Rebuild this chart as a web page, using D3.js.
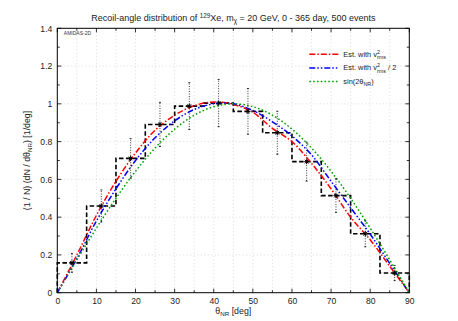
<!DOCTYPE html>
<html>
<head>
<meta charset="utf-8">
<script src="https://cdnjs.cloudflare.com/ajax/libs/d3/7.8.5/d3.min.js"></script>
<style>
  body { margin: 0; background: #fff; }
  svg text { font-family: "Liberation Sans", Arial, sans-serif; fill: #222; }
</style>
</head>
<body>
<div id="chart"></div>
<script>
// histogram: 12 bins of 7.5 deg
const binEdges = [0, 7.5, 15, 22.5, 30, 37.5, 45, 52.5, 60, 67.5, 75, 82.5, 90];
const binValues = [0.158, 0.459, 0.711, 0.891, 0.988, 1.004, 0.960, 0.847, 0.694, 0.514, 0.312, 0.104];
const binErrors = [0.050, 0.085, 0.105, 0.117, 0.124, 0.125, 0.121, 0.114, 0.103, 0.089, 0.069, 0.040];

// curves read at every 5 deg
const curveAngles = [0, 5, 10, 15, 20, 25, 30, 35, 40, 45, 50, 55, 60, 65, 70, 75, 80, 85, 90];
const estVrms = [0, 0.20, 0.41, 0.59, 0.74, 0.86, 0.94, 0.99, 1.01, 0.997, 0.955, 0.87, 0.80, 0.685, 0.55, 0.40, 0.28, 0.14, 0];
const estVrmsHalf = [0, 0.18, 0.38, 0.55, 0.70, 0.82, 0.91, 0.97, 1.0, 1.0, 0.965, 0.905, 0.83, 0.73, 0.59, 0.45, 0.31, 0.155, 0];
const sin2theta = [0, 0.174, 0.342, 0.5, 0.643, 0.766, 0.866, 0.940, 0.985, 1, 0.985, 0.940, 0.866, 0.766, 0.643, 0.5, 0.342, 0.174, 0];

const xTicks = [0, 10, 20, 30, 40, 50, 60, 70, 80, 90];
const yTicks = [0, 0.2, 0.4, 0.6, 0.8, 1, 1.2, 1.4];

const W = 458, H = 321;
const margin = {top: 28.3, right: 48.7, bottom: 28.3, left: 57.3};
const width = W - margin.left - margin.right,
      height = H - margin.top - margin.bottom;

const svg = d3.select("#chart").append("svg")
  .attr("width", W)
  .attr("height", H);

const g = svg.append("g")
  .attr("transform", "translate(" + margin.left + "," + margin.top + ")");

const x = d3.scaleLinear().domain([0, 90]).range([0, width]);
const y = d3.scaleLinear().domain([0, 1.4]).range([height, 0]);

// grid
g.append("g").selectAll("line")
  .data(d3.range(5, 90, 5))
  .enter().append("line")
  .attr("x1", d => x(d)).attr("x2", d => x(d))
  .attr("y1", 0).attr("y2", height)
  .style("stroke", "#d0d0d0").style("stroke-width", 0.8)
  .style("stroke-dasharray", "1,2.5");
g.append("g").selectAll("line")
  .data(yTicks.slice(1, -1))
  .enter().append("line")
  .attr("x1", 0).attr("x2", width)
  .attr("y1", d => y(d)).attr("y2", d => y(d))
  .style("stroke", "#d0d0d0").style("stroke-width", 0.8)
  .style("stroke-dasharray", "1,2.5");

// axes
const xAxis = g.append("g")
  .attr("transform", "translate(0," + height + ")")
  .call(d3.axisBottom(x).tickValues(xTicks).tickSize(0).tickPadding(5).tickFormat(d3.format("d")));
const yAxis = g.append("g")
  .call(d3.axisLeft(y).tickValues(yTicks).tickSize(0).tickPadding(5).tickFormat(d => d === 0 ? "0" : d3.format("")(d)));
[xAxis, yAxis].forEach(a => {
  a.select(".domain").remove();
  a.selectAll("text").style("font-size", "8.6px").style("fill", "#222");
});

// inner tick marks
const tickStyle = sel => sel.style("stroke", "#000").style("stroke-width", 0.8);
const xMinor = d3.range(0, 91, 5);
g.append("g").selectAll("line").data(xMinor).enter().append("line")
  .attr("x1", d => x(d)).attr("x2", d => x(d))
  .attr("y1", height).attr("y2", d => height - (d % 10 === 0 ? 4 : 2.5)).call(tickStyle);
g.append("g").selectAll("line").data(xMinor).enter().append("line")
  .attr("x1", d => x(d)).attr("x2", d => x(d))
  .attr("y1", 0).attr("y2", d => (d % 10 === 0 ? 4 : 2.5)).call(tickStyle);
const yMinor = d3.range(0, 15).map(i => i / 10);
g.append("g").selectAll("line").data(yMinor).enter().append("line")
  .attr("x1", 0).attr("x2", (d, i) => (i % 2 === 0 ? 4 : 2.5))
  .attr("y1", d => y(d)).attr("y2", d => y(d)).call(tickStyle);
g.append("g").selectAll("line").data(yMinor).enter().append("line")
  .attr("x1", width).attr("x2", (d, i) => width - (i % 2 === 0 ? 4 : 2.5))
  .attr("y1", d => y(d)).attr("y2", d => y(d)).call(tickStyle);

// histogram
const histPts = [[0, 0]];
binValues.forEach((v, i) => {
  histPts.push([binEdges[i], v]);
  histPts.push([binEdges[i + 1], v]);
});
histPts.push([90, 0]);
g.append("path")
  .datum(histPts)
  .attr("d", d3.line().x(d => x(d[0])).y(d => y(d[1])))
  .style("fill", "none").style("stroke", "#000")
  .style("stroke-width", 1.6).style("stroke-dasharray", "4.5,2.5");

// curves
const line = d3.line()
  .x((d, i) => x(curveAngles[i]))
  .y(d => y(d))
  .curve(d3.curveCatmullRom);
const series = [
  {name: "red", data: estVrms, color: "#ff0000", dash: "6,2,1.5,2"},
  {name: "blue", data: estVrmsHalf, color: "#0000ff", dash: "6,2,1.5,2,1.5,2"},
  {name: "green", data: sin2theta, color: "#00a000", dash: "1.6,2.2"}
];
series.forEach(s => {
  g.append("path")
    .datum(s.data)
    .attr("d", line)
    .style("fill", "none").style("stroke", s.color)
    .style("stroke-width", 1.5).style("stroke-dasharray", s.dash);
});

// error bars and points
const centers = binValues.map((v, i) => (binEdges[i] + binEdges[i + 1]) / 2);
const eb = g.append("g");
binValues.forEach((v, i) => {
  const cx = x(centers[i]);
  eb.append("line")
    .attr("x1", cx).attr("x2", cx)
    .attr("y1", y(v - binErrors[i])).attr("y2", y(v + binErrors[i]))
    .style("stroke", "#000").style("stroke-width", 0.8).style("stroke-dasharray", "1,1.5");
  [v - binErrors[i], v + binErrors[i]].forEach(e => {
    eb.append("line")
      .attr("x1", cx - 1).attr("x2", cx + 1)
      .attr("y1", y(e)).attr("y2", y(e))
      .style("stroke", "#000").style("stroke-width", 0.8);
  });
  eb.append("path")
    .attr("d", "M-2.5,0H2.5M0,-2.5V2.5M-1.8,-1.8L1.8,1.8M-1.8,1.8L1.8,-1.8")
    .attr("transform", "translate(" + cx + "," + y(v) + ")")
    .style("stroke", "#000").style("stroke-width", 1);
});

// frame
g.append("rect")
  .attr("width", width).attr("height", height)
  .style("fill", "none").style("stroke", "#000").style("stroke-width", 1);

// AMIDAS label
g.append("text")
  .attr("x", 6.5).attr("y", 6.5)
  .style("font-size", "5px").style("fill", "#333")
  .text("AMIDAS-2D");

// legend
const legend = g.append("g").attr("transform", "translate(252,26)");
const legendLabels = [
  {base: "Est. with v", sup: "2", sub: "rms", tail: ""},
  {base: "Est. with v", sup: "2", sub: "rms", tail: " / 2"},
  {base: "sin(2\u03b8", sup: null, sub: "NR", tail: ")"}
];
series.forEach((s, i) => {
  const row = legend.append("g").attr("transform", "translate(0," + (i * 13.6) + ")");
  row.append("line")
    .attr("x1", 0).attr("x2", 29)
    .style("stroke", s.color).style("stroke-width", 1.5).style("stroke-dasharray", s.dash);
  const t = row.append("text").attr("x", 34).attr("y", 2.5).style("font-size", "7.4px");
  const L = legendLabels[i];
  t.append("tspan").text(L.base);
  if (L.sup) {
    t.append("tspan").attr("dy", -3.2).style("font-size", "5.4px").text(L.sup);
    t.append("tspan").attr("dx", -3).attr("dy", 5.4).style("font-size", "5.4px").text(L.sub);
    t.append("tspan").attr("dy", -2.2).text(L.tail);
  } else {
    t.append("tspan").attr("dy", 1.8).style("font-size", "5.4px").text(L.sub);
    t.append("tspan").attr("dy", -1.8).text(L.tail);
  }
});

// title
const title = svg.append("text")
  .attr("x", margin.left + width / 2).attr("y", 21)
  .attr("text-anchor", "middle")
  .style("font-size", "9px");
title.append("tspan").text("Recoil-angle distribution of ");
title.append("tspan").attr("dy", -3).style("font-size", "6.3px").text("129");
title.append("tspan").attr("dy", 3).text("Xe, m");
title.append("tspan").attr("dy", 2).style("font-size", "6.3px").text("\u03c7");
title.append("tspan").attr("dy", -2).text(" = 20 GeV, 0 - 365 day, 500 events");

// x label
const xl = svg.append("text")
  .attr("x", margin.left + width / 2).attr("y", 314)
  .attr("text-anchor", "middle").style("font-size", "8.8px");
xl.append("tspan").text("\u03b8");
xl.append("tspan").attr("dy", 2).style("font-size", "6.2px").text("NR");
xl.append("tspan").attr("dy", -2).text(" [deg]");

// y label
const yl = svg.append("text")
  .attr("transform", "translate(30," + (margin.top + height / 2) + ") rotate(-90)")
  .attr("text-anchor", "middle").style("font-size", "8.8px");
yl.append("tspan").text("(1 / N) (dN / d\u03b8");
yl.append("tspan").attr("dy", 2).style("font-size", "6.2px").text("NR");
yl.append("tspan").attr("dy", -2).text(") [1/deg]");
</script>
</body>
</html>
